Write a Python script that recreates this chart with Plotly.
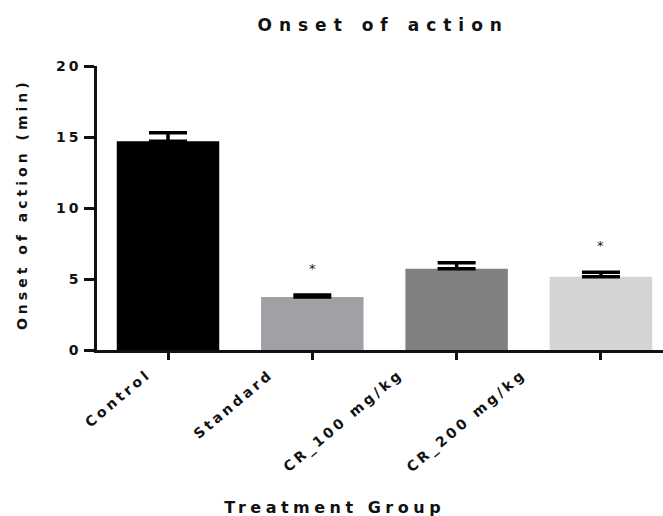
import math
import plotly.graph_objects as go

groups = ["Control", "Standard", "CR_100 mg/kg", "CR_200 mg/kg"]
means = [14.7, 3.73, 5.72, 5.16]
sems = [0.6, 0.14, 0.43, 0.31]
signif = ["", "*", "", "*"]
bar_colors = ["#000000", "#a1a1a5", "#808080", "#d4d4d4"]

# style: horizontal offset (px) of each rotated category label's end from its tick
label_dx = [-11, -33, -47, -68]

FONT = "DejaVu Sans"
LABEL_SP = 3.3
ANG = 40

fig = go.Figure()
fig.add_trace(go.Bar(
    x=list(range(len(groups))),
    y=means,
    width=0.71,
    marker=dict(color=bar_colors, line=dict(width=0)),
    error_y=dict(type="data", symmetric=False, array=sems,
                 arrayminus=[0] * len(sems),
                 color="#000000", thickness=3.5, width=19),
    showlegend=False,
))

annotations = []
for i, s in enumerate(signif):
    if s:
        annotations.append(dict(x=i, y=means[i] + sems[i], xref="x", yref="y",
                                text=s, showarrow=False, yshift=27,
                                font=dict(family=FONT, size=13, color="#222")))

for i, g in enumerate(groups):
    half = len(g) * LABEL_SP / 2
    ex = half * math.cos(math.radians(ANG))
    ey = half * math.sin(math.radians(ANG))
    annotations.append(dict(x=i, y=0, xref="x", yref="y", text="<b>%s</b>" % g,
                            showarrow=False, textangle=-ANG,
                            xanchor="right", yanchor="top",
                            xshift=label_dx[i] - ex, yshift=-13 - ey,
                            font=dict(family=FONT, size=14, color="#111")))

annotations.append(dict(x=0.42, y=-0.553, xref="paper", yref="paper",
                        text="<b>Treatment Group</b>", showarrow=False,
                        xanchor="center", yanchor="middle",
                        font=dict(family=FONT, size=16, color="#111")))
annotations.append(dict(x=-0.1325, y=0.514, xref="paper", yref="paper",
                        text="<b>Onset of action (min)</b>", showarrow=False,
                        textangle=-90, xanchor="center", yanchor="middle",
                        font=dict(family=FONT, size=14, color="#111")))

fig.update_layout(
    width=663, height=516,
    margin=dict(l=97, r=0, t=66, b=166),
    plot_bgcolor="white", paper_bgcolor="white",
    title=dict(text="<b>Onset of action</b>", x=0.578, xref="container",
               xanchor="center", y=0.952, yanchor="middle",
               font=dict(family=FONT, size=17, color="#111")),
    xaxis=dict(range=[-0.492, 3.43], tickvals=list(range(len(groups))),
               showticklabels=False, showgrid=False, zeroline=False,
               showline=True, linecolor="#111", linewidth=2.5,
               ticks="outside", ticklen=7, tickwidth=2.5, tickcolor="#111"),
    yaxis=dict(range=[0, 20], tickvals=[0, 5, 10, 15, 20], showgrid=False,
               zeroline=False, showline=True, linecolor="#111", linewidth=2.5,
               ticks="outside", ticklen=10, tickwidth=2.5, tickcolor="#111",
               tickfont=dict(family=FONT, size=14, color="#111", weight="bold")),
    annotations=annotations,
)

js = """
document.body.style.margin = '0';
document.body.style.padding = '0';
var gd = document.getElementById('{plot_id}');
function ls(){
  gd.querySelectorAll('text').forEach(function(t){
    var sp = '%spx';
    var txt = t.textContent;
    if (t.classList.contains('gtitle')) sp = '7px';
    else if (txt.indexOf('Treatment') >= 0) sp = '4.5px';
    else if (txt.indexOf('(min)') >= 0) sp = '4px';
    else if (/^[0-9]+$/.test(txt)) sp = '3px';
    else if (txt === '*') sp = '0px';
    t.style.letterSpacing = sp;
  });
}
ls();
if (gd.on) gd.on('plotly_afterplot', ls);
""" % LABEL_SP
fig.write_html("out.html", post_script=js, config={"displayModeBar": False})
